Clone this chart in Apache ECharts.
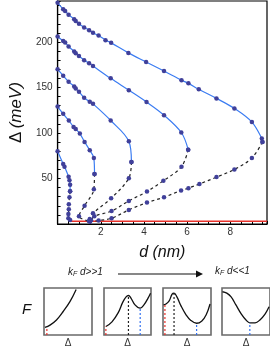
<!DOCTYPE html>
<html><head><meta charset="utf-8">
<script src="https://cdn.jsdelivr.net/npm/echarts@6/dist/echarts.min.js"></script>
<style>html,body{margin:0;padding:0;background:#fff}#c{width:270px;height:349px}</style>
</head><body><div id="c"></div>
<script>
// ---- main chart data: [d (nm), Δ (meV)] ----
const curve1Upper = [[0,243],[0.26,236],[0.35,234],[0.51,230],[0.77,225],[0.84,223],[0.99,220],[1.23,216],[1.46,213],[1.64,210],[1.9,207],[2.22,202],[2.48,199],[3.28,188],[4.1,178],[4.93,168],[5.74,158],[6.06,154.5],[6.54,148],[7.36,138],[8.19,127],[9.0,112],[9.46,94],[9.49,90]];
const curve1Lower = [[9.49,90],[9.0,72.5],[8.19,60],[7.36,51.5],[6.57,44],[6.06,39.4],[5.72,36.8],[4.93,29.4],[4.14,23.5],[3.3,15.5],[2.5,6.3],[1.9,3.8],[1.5,2.6]];
const curve2Upper = [[0,206],[0.26,201],[0.35,199.4],[0.51,195],[0.77,189.5],[0.84,187.6],[0.99,184.7],[1.23,180],[1.46,176.6],[1.64,173.6],[2.46,160],[3.3,147],[4.12,134],[4.93,119.5],[5.73,100.5],[6.05,81.7]];
const curve2Lower = [[6.05,81.7],[5.74,63],[4.9,47.5],[4.14,35.7],[3.3,25.4],[2.5,14.3],[1.7,8.5],[1.55,4]];
const curve3Upper = [[0,170],[0.26,163],[0.51,156.4],[0.77,151],[0.84,149],[0.99,145.4],[1.23,138.7],[1.49,134.3],[1.64,132],[2.46,113.7],[3.3,90.8],[3.42,68]];
const curve3Lower = [[3.42,68],[3.3,50.4],[2.48,28.3],[1.64,11.8],[1.49,5.5]];
const curve4Upper = [[0,129],[0.26,121],[0.52,113.7],[0.74,106.7],[0.84,104.5],[1.03,99.3],[1.25,90.2],[1.49,81],[1.68,72.5],[1.71,55]];
const curve4Lower = [[1.71,55],[1.68,38.3],[1.25,20],[0.99,8.5],[1.45,3.3]];
const curve5Upper = [[0,80],[0.26,66],[0.32,63],[0.51,52],[0.55,48],[0.58,43],[0.58,36]];
const curve5Lower = [[0.58,36],[0.55,29.4],[0.52,21.7],[0.52,16.2],[0.5,11],[0.5,6.3],[0.58,4.4]];
const redLine = [[0.55,3],[9.7,3]];
const xTickLabels = [2,4,6,8];
const yTickLabels = [50,100,150,200];

// ---- schematic free-energy panels: [Δ (norm), F (norm)] ----
const panel1F = [[0.02,0.16],[0.125,0.21],[0.26,0.32],[0.4,0.5],[0.54,0.71],[0.67,0.97]];
const panel2F = [[0.04,0.18],[0.17,0.28],[0.3,0.47],[0.4,0.7],[0.47,0.81],[0.52,0.84],[0.57,0.79],[0.66,0.64],[0.77,0.57],[0.85,0.64],[0.94,0.79],[0.99,0.89]];
const panel3F = [[0.01,0.64],[0.06,0.66],[0.125,0.72],[0.19,0.87],[0.23,0.89],[0.29,0.81],[0.375,0.62],[0.48,0.43],[0.58,0.31],[0.7,0.25],[0.81,0.3],[0.9,0.43],[0.98,0.66]];
const panel4F = [[0.01,0.92],[0.1,0.89],[0.19,0.81],[0.29,0.64],[0.4,0.45],[0.5,0.32],[0.58,0.26],[0.69,0.26],[0.79,0.32],[0.9,0.45],[0.98,0.6]];
// vertical markers per panel: [x, top, colour-key]
const panel1Marks = [[0.06,0.15,'red']];
const panel2Marks = [[0.04,0.18,'red'],[0.52,0.84,'black'],[0.77,0.57,'blue']];
const panel3Marks = [[0.04,0.64,'red'],[0.23,0.89,'black'],[0.7,0.25,'blue']];
const panel4Marks = [[0.58,0.26,'blue']];

const markColors = {red:'#e8302a', black:'#222', blue:'#2f6ff0'};
const BLUE = '#3b7cf2', DOT = '#40409a';

const chart = echarts.init(document.getElementById('c'), null, {renderer:'canvas'});

const series = [];
const uppers = [curve1Upper,curve2Upper,curve3Upper,curve4Upper,curve5Upper];
const lowers = [curve1Lower,curve2Lower,curve3Lower,curve4Lower,curve5Lower];
series.push({type:'line', data:redLine, xAxisIndex:0, yAxisIndex:0, symbol:'none', lineStyle:{color:'#e8302a', width:1.3}, z:1});
uppers.forEach(d => series.push({type:'line', data:d, xAxisIndex:0, yAxisIndex:0, smooth:0.35, symbol:'circle', symbolSize:4.5,
  itemStyle:{color:DOT}, lineStyle:{color:BLUE, width:1.2}, z:3}));
lowers.forEach(d => series.push({type:'line', data:d, xAxisIndex:0, yAxisIndex:0, smooth:0.35, symbol:'circle', symbolSize:4.5,
  itemStyle:{color:DOT}, lineStyle:{color:'#222', width:1.2, type:[3,3]}, z:2}));

const panels = [[panel1F,panel1Marks],[panel2F,panel2Marks],[panel3F,panel3Marks],[panel4F,panel4Marks]];
panels.forEach((p,i) => {
  series.push({type:'line', data:p[0], xAxisIndex:i+1, yAxisIndex:i+1, smooth:0.4, symbol:'none', lineStyle:{color:'#111', width:1.3}});
  p[1].forEach(m => series.push({type:'line', data:[[m[0],0],[m[0],m[1]]], xAxisIndex:i+1, yAxisIndex:i+1, symbol:'none',
    lineStyle:{color:markColors[m[2]], width:1.2, type:[2,2]}}));
});

const panelGrids = [{left:44,width:48},{left:104,width:47},{left:163,width:48},{left:222,width:48}];
const grids = [{left:44, top:1, width:223, height:223, show:true, borderColor:'#000', borderWidth:1.2, backgroundColor:'transparent'}];
panelGrids.forEach(g => grids.push({left:g.left, top:288, width:g.width, height:47, show:true, borderColor:'#6a6a6a', borderWidth:1.6}));

const xAxes = [{type:'value', gridIndex:0, min:0, max:9.7, interval:0.5,
  axisLine:{show:true, lineStyle:{color:'#000', width:1.2}},
  axisTick:{show:true, inside:true, length:3, lineStyle:{color:'#000'}},
  splitLine:{show:false},
  axisLabel:{margin:3, fontSize:10, color:'#333', fontFamily:'Liberation Sans',
    formatter: v => xTickLabels.indexOf(Math.round(v*100)/100) >= 0 ? String(v) : ''},
  name:'d (nm)', nameLocation:'middle', nameGap:21,
  nameTextStyle:{fontSize:16, fontStyle:'italic', color:'#111', fontFamily:'Liberation Sans'}}];
const yAxes = [{type:'value', gridIndex:0, min:0, max:245, interval:10,
  axisLine:{show:true, lineStyle:{color:'#000', width:1.2}},
  axisTick:{show:true, inside:true, length:3, lineStyle:{color:'#000'}},
  splitLine:{show:false},
  axisLabel:{margin:5, fontSize:10, color:'#333', fontFamily:'Liberation Sans',
    formatter: v => yTickLabels.indexOf(v) >= 0 ? String(v) : ''},
  name:'{a|Δ} {b|(meV)}', nameLocation:'middle', nameGap:30,
  nameTextStyle:{rich:{a:{fontSize:17, color:'#111', fontFamily:'Liberation Sans'}, b:{fontSize:17, fontStyle:'italic', color:'#111', fontFamily:'Liberation Sans'}}}}];
panelGrids.forEach((g,i) => {
  xAxes.push({type:'value', gridIndex:i+1, min:0, max:1, show:false});
  yAxes.push({type:'value', gridIndex:i+1, min:0, max:1, show:false});
});

const gfx = [
  {type:'text', left:22, top:302, style:{text:'F', fontSize:15, fontStyle:'italic', fill:'#111', fontFamily:'Liberation Sans'}},
  {type:'text', left:68, top:267, style:{text:'{k|k}{s|F}{n| d>>1}', rich:{k:{fontSize:10,fontStyle:'italic',fill:'#222'}, s:{fontSize:7,fontStyle:'italic',fill:'#222',padding:[5,0,0,0]}, n:{fontSize:10,fontStyle:'italic',fill:'#222'}}}},
  {type:'text', left:215, top:266, style:{text:'{k|k}{s|F}{n| d<<1}', rich:{k:{fontSize:10,fontStyle:'italic',fill:'#222'}, s:{fontSize:7,fontStyle:'italic',fill:'#222',padding:[5,0,0,0]}, n:{fontSize:10,fontStyle:'italic',fill:'#222'}}}},
  {type:'line', shape:{x1:118, y1:274, x2:199, y2:274}, style:{stroke:'#111', lineWidth:1.2}},
  {type:'polygon', shape:{points:[[203,274],[196,270.5],[196,277.5]]}, style:{fill:'#111'}}
];
[[68,343],[127.5,343],[187,343],[246,343]].forEach(p => gfx.push({type:'text', x:p[0], y:p[1], style:{text:'Δ', fontSize:10, fill:'#333', align:'center', verticalAlign:'middle', fontFamily:'Liberation Sans'}}));

chart.setOption({animation:false, backgroundColor:'#fff', grid:grids, xAxis:xAxes, yAxis:yAxes, series:series, graphic:gfx});
</script></body></html>
